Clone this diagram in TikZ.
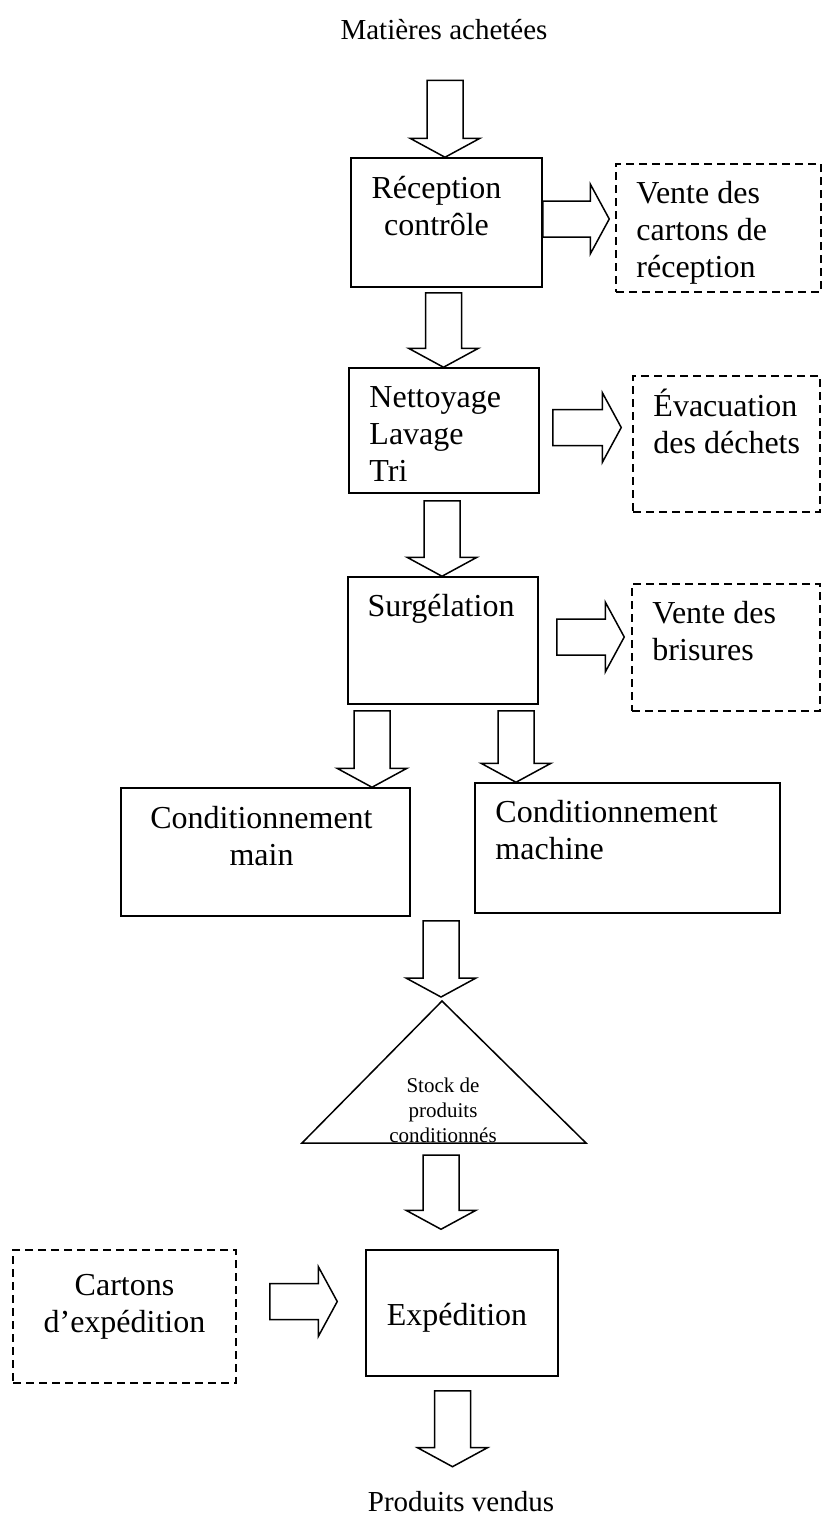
\documentclass[tikz,border=0pt]{standalone}
\usepackage{fontspec}
\setmainfont{Liberation Serif}
\usetikzlibrary{calc}

% fleche creuse vers le bas : depart, pointe
\newcommand{\flechebas}[2]{%
  \draw[fleche] let \p1=(#1), \p2=(#2) in
    (\x1-18pt,\y1) -- (\x1+18pt,\y1) -- (\x1+18pt,\y2+19pt) -- (\x1+35pt,\y2+19pt)
    -- (\x1,\y2) -- (\x1-35pt,\y2+19pt) -- (\x1-18pt,\y2+19pt) -- cycle;}
% fleche creuse vers la droite : depart, pointe
\newcommand{\flechedroite}[2]{%
  \draw[fleche] let \p1=(#1), \p2=(#2) in
    (\x1,\y1+18pt) -- (\x2-19pt,\y1+18pt) -- (\x2-19pt,\y1+35pt) -- (\x2,\y1)
    -- (\x2-19pt,\y1-35pt) -- (\x2-19pt,\y1-18pt) -- (\x1,\y1-18pt) -- cycle;}

\begin{document}
\begin{tikzpicture}[x=1pt, y=-1pt,
    boite/.style={draw, line width=1.5pt, inner sep=0pt},
    pointille/.style={boite, dash pattern=on 8pt off 5pt},
    texte/.style={font=\fontsize{32}{37}\selectfont, inner sep=0pt},
    petit/.style={font=\fontsize{21}{25}\selectfont, inner sep=0pt},
    titre/.style={font=\fontsize{29}{34}\selectfont, inner sep=0pt},
    fleche/.style={draw, line width=1.5pt, line join=miter},
    txtg/.style={label={[texte, align=left, anchor=north west, xshift=21pt, yshift=-14pt]north west:{\strut #1}}}]
        \useasboundingbox (0,0) rectangle (822,1519);

        % Entree et sortie
        \node[titre, anchor=base] (achat) at (444,39) {Matières achetées};
        \node[titre, anchor=base] (vendus) at (461,1511) {Produits vendus};

        % Etapes
        \node[boite, minimum width=191pt, minimum height=129pt,
          label={[texte, align=center, anchor=north, xshift=-10pt, yshift=-15pt]north:{\strut Réception\\contrôle}}] (recep) at (446.5,222.5) {};
        \node[boite, minimum width=190pt, minimum height=125pt, txtg={Nettoyage\\Lavage\\Tri}] (nett) at (444,430.5) {};
        \node[boite, minimum width=190pt, minimum height=127pt,
          label={[texte, anchor=north, xshift=-2pt, yshift=-14pt]north:{\strut Surgélation}}] (surg) at (443,640.5) {};
        \node[boite, minimum width=289pt, minimum height=128pt,
          label={[texte, align=center, anchor=north, xshift=-4pt, yshift=-15pt]north:{\strut Conditionnement\\main}}] (condmain) at (265.5,852) {};
        \node[boite, minimum width=305pt, minimum height=130pt, txtg={Conditionnement\\machine}] (condmach) at (627.5,848) {};
        \node[boite, minimum width=192pt, minimum height=126pt,
          label={[texte, anchor=north, xshift=-5pt, yshift=-50pt]north:{\strut Expédition}}] (exped) at (462,1313) {};

        % Sorties et entrees annexes
        \node[pointille, minimum width=205pt, minimum height=128pt, txtg={Vente des\\cartons de\\réception}] (vente1) at (718.5,228) {};
        \node[pointille, minimum width=187pt, minimum height=136pt, txtg={Évacuation\\des déchets}] (evac) at (726.5,444) {};
        \node[pointille, minimum width=188pt, minimum height=127pt, txtg={Vente des\\brisures}] (brisures) at (726,647.5) {};
        \node[pointille, minimum width=223pt, minimum height=133pt,
          label={[texte, align=center, anchor=north, yshift=-20pt]north:{\strut Cartons\\d'expédition}}] (cartons) at (124.5,1316.5) {};

        % Stock
        \coordinate (sommet) at (442,1001);
        \coordinate (baseG) at (302,1143);
        \coordinate (baseD) at (586,1143);
        \draw[line width=1.5pt, line join=miter] (sommet) -- (baseD) -- (baseG) -- cycle;
        \node[petit, align=center, anchor=north] (stock) at (443,1075) {\strut Stock de\\produits\\conditionnés};

        % Fleches
        \flechebas{$(achat.south)+(1,41)$}{recep.north}
        \flechedroite{$(recep.east)+(0,-3.5)$}{$(vente1.west)+(-6,0)$}
        \flechebas{$(recep.south)+(-3,5)$}{nett.north}
        \flechedroite{$(nett.east)+(13,-3)$}{$(evac.west)+(-11,0)$}
        \flechebas{$(nett.south)+(-2,7)$}{surg.north}
        \flechedroite{$(surg.east)+(18,-3.5)$}{$(brisures.west)+(-7,0)$}
        \flechebas{$(surg.south)+(-71,6)$}{condmain.north}
        \flechebas{$(surg.south)+(73,6)$}{condmach.north}
        \flechebas{$(condmain.south -| sommet)+(-1,4)$}{$(sommet)+(0,-4)$}
        \flechebas{$(baseG -| sommet)+(-1,12)$}{$(exped.north)+(0,-20)$}
        \flechedroite{$(cartons.east)+(33,-15)$}{$(exped.west)+(-28,0)$}
        \flechebas{$(exped.south)+(-9.5,14)$}{$(vendus.north)+(0,-24)$}
    \end{tikzpicture}
\end{document}
